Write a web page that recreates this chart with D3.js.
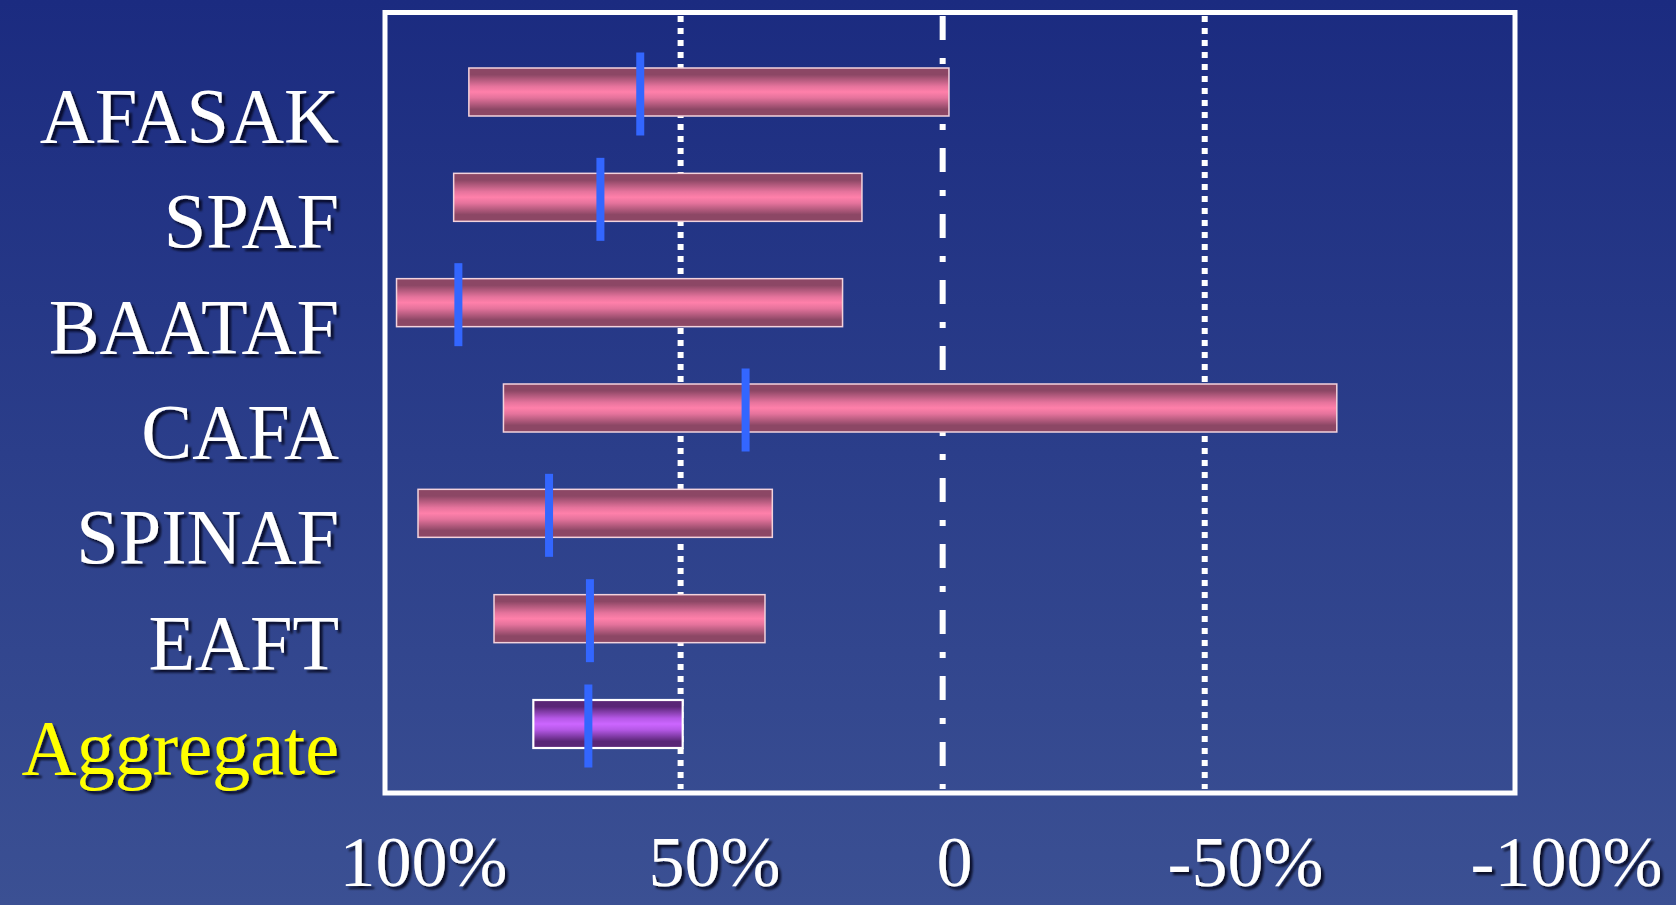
<!DOCTYPE html>
<html>
<head>
<meta charset="utf-8">
<title>Warfarin vs placebo: relative risk reduction</title>
<script src="https://cdn.jsdelivr.net/npm/d3@7/dist/d3.min.js"></script>
<style>
  html, body { margin: 0; padding: 0; overflow: hidden; background: #1b2b80; }
  svg { display: block; }
</style>
</head>
<body>
<svg id="chart" width="1676" height="905"></svg>
<script>
// Trials and their relative risk reduction (%), 95% CI and point estimate
const categories = ["AFASAK", "SPAF", "BAATAF", "CAFA", "SPINAF", "EAFT", "Aggregate"];
const ciLow      = [-1.2, 15.4, 19.1, -75.2, 32.5, 33.9, 49.6];
const ciHigh     = [90.4, 93.3, 104.2, 83.8, 100.1, 85.6, 78.1];
const pointEst   = [57.7, 65.3, 92.4, 37.6, 75.1, 67.3, 67.6];

// Axis ticks along the bottom
const tickValues = [100, 50, 0, -50, -100];
const tickLabels = ["100%", "50%", "0", "-50%", "-100%"];

// Reference guides inside the frame
const guideValues = [50, 0, -50];
const guideKinds  = ["dotted", "dashdot", "dotted"];

const W = 1676, H = 905;
const frame = { left: 385, top: 12.5, right: 1515, bottom: 793 };

const svg = d3.select("#chart");
const defs = svg.append("defs");

// Background gradient
const bg = defs.append("linearGradient").attr("id", "bgGrad")
  .attr("x1", 0).attr("y1", 0).attr("x2", 0).attr("y2", 1);
bg.append("stop").attr("offset", "0%").attr("stop-color", "#1b2b80");
bg.append("stop").attr("offset", "50%").attr("stop-color", "#2b3e8a");
bg.append("stop").attr("offset", "100%").attr("stop-color", "#3b5093");

// Cylinder-like bar shading
function barGradient(id, edge, mid, centre) {
  const g = defs.append("linearGradient").attr("id", id)
    .attr("x1", 0).attr("y1", 0).attr("x2", 0).attr("y2", 1);
  [[0, edge], [0.14, edge], [0.38, mid], [0.5, centre], [0.62, mid], [0.86, edge], [1, edge]]
    .forEach(([o, c]) => g.append("stop").attr("offset", o).attr("stop-color", c));
}
barGradient("pinkGrad", "#8c4765", "#e5739c", "#ff80aa");
barGradient("purpleGrad", "#5a2677", "#b558e6", "#cc66ff");

// Soft shadow behind the slide text
const shadow = defs.append("filter").attr("id", "textShadow")
  .attr("x", "-10%").attr("y", "-20%").attr("width", "130%").attr("height", "150%");
shadow.append("feDropShadow").attr("dx", 3).attr("dy", 3).attr("stdDeviation", 1.3)
  .attr("flood-color", "#000010").attr("flood-opacity", 0.8);

svg.append("rect").attr("width", W).attr("height", H).attr("fill", "url(#bgGrad)");

// Scales
const x = d3.scaleLinear().domain([106.4, -109.2]).range([frame.left, frame.right]);
const y = d3.scalePoint().domain(categories).range([92, 724]);
const barH = 48, markW = 8, markH = 83;

// Guide lines
const dashes = { dotted: "6,6", dashdot: "24,18,6,18" };
svg.append("g").selectAll("line").data(guideValues).join("line")
  .attr("x1", d => x(d)).attr("x2", d => x(d))
  .attr("y1", frame.top + 3.5).attr("y2", frame.bottom - 4)
  .attr("stroke", "#ffffff").attr("stroke-width", 6)
  .attr("stroke-dasharray", (d, i) => dashes[guideKinds[i]]);

// Confidence-interval bars
const rows = categories.map((c, i) => ({ c, lo: ciLow[i], hi: ciHigh[i], pt: pointEst[i], agg: c === "Aggregate" }));

svg.append("g").selectAll("rect").data(rows).join("rect")
  .attr("x", d => x(d.hi))
  .attr("width", d => x(d.lo) - x(d.hi))
  .attr("y", d => y(d.c) - barH / 2)
  .attr("height", barH)
  .attr("fill", d => d.agg ? "url(#purpleGrad)" : "url(#pinkGrad)")
  .attr("stroke", d => d.agg ? "#ffffff" : "#f3d2dc")
  .attr("stroke-width", d => d.agg ? 2.2 : 1.5);

// Point estimates
svg.append("g").selectAll("rect").data(rows).join("rect")
  .attr("x", d => x(d.pt) - markW / 2)
  .attr("width", markW)
  .attr("y", d => y(d.c) - markH / 2 + 2)
  .attr("height", markH)
  .attr("fill", "#3366ff");

// Frame
svg.append("rect")
  .attr("x", frame.left).attr("y", frame.top)
  .attr("width", frame.right - frame.left).attr("height", frame.bottom - frame.top)
  .attr("fill", "none").attr("stroke", "#ffffff").attr("stroke-width", 5);

// Trial names (slightly condensed serif, right-aligned)
svg.append("g").attr("filter", "url(#textShadow)")
  .selectAll("text").data(rows).join("text")
  .attr("transform", d => `translate(339,${y(d.c) + 50}) scale(0.965,1)`)
  .attr("text-anchor", "end")
  .attr("font-family", "'Liberation Serif', 'Times New Roman', serif")
  .attr("font-size", 79)
  .attr("fill", d => d.agg ? "#ffff00" : "#ffffff")
  .text(d => d.c);

// Bottom axis labels
const labelX = d3.scaleLinear().domain([100, 50, 0, -50, -100]).range([423, 714, 954, 1245, 1566]);
const axis = d3.axisBottom(labelX)
  .tickValues(tickValues)
  .tickFormat((d, i) => tickLabels[i])
  .tickSize(0).tickPadding(0);
const ax = svg.append("g").attr("transform", "translate(0,886)").attr("filter", "url(#textShadow)").call(axis);
ax.select(".domain").remove();
ax.selectAll("text")
  .attr("y", 0).attr("dy", 0)
  .attr("font-family", "'Liberation Serif', 'Times New Roman', serif")
  .attr("font-size", 72)
  .attr("fill", "#ffffff");
</script>
</body>
</html>
